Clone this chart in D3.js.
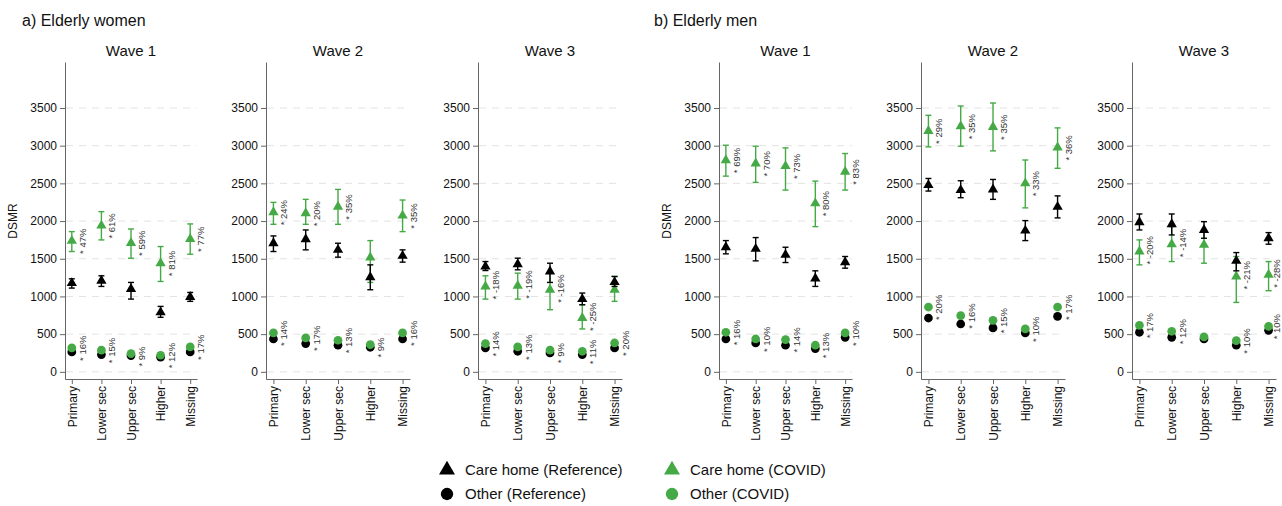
<!DOCTYPE html>
<html>
<head>
<meta charset="utf-8">
<script src="https://cdn.jsdelivr.net/npm/d3@7"></script>
<style>
  body { margin: 0; background: #fff; }
  svg { font-family: "Liberation Sans", Arial, sans-serif; }
</style>
</head>
<body>
<svg width="1282" height="506"></svg>
<script>
// categories and labels
const categories = ["Primary", "Lower sec", "Upper sec", "Higher", "Missing"];
const yTicks = [0, 500, 1000, 1500, 2000, 2500, 3000, 3500];
const groupTitles = ["a) Elderly women", "b) Elderly men"];
const waves = ["Wave 1", "Wave 2", "Wave 3"];

// one row per panel: women W1, W2, W3, men W1, W2, W3
const careCov = [
    [1737, 1940, 1710, 1441, 1763],
    [2116, 2103, 2191, 1516, 2072],
    [1133, 1142, 1089, 714, 1089],
    [2808, 2764, 2729, 2235, 2654],
    [3196, 3257, 3249, 2500, 2975],
    [1596, 1693, 1684, 1265, 1287]
];
const careCovLo = [
    [1596, 1750, 1507, 1199, 1560],
    [1957, 1957, 1957, 1186, 1860],
    [965, 965, 824, 569, 935],
    [2596, 2513, 2411, 1926, 2411],
    [2984, 2993, 2931, 2175, 2700],
    [1419, 1463, 1441, 921, 1076]
];
const careCovHi = [
    [1860, 2125, 1895, 1662, 1962],
    [2248, 2288, 2420, 1741, 2279],
    [1274, 1309, 1309, 890, 1265],
    [3006, 2993, 2971, 2530, 2896],
    [3403, 3526, 3566, 2810, 3236],
    [1750, 1926, 1882, 1530, 1463]
];
const careRef = [
    [1177, 1208, 1098, 789, 992],
    [1706, 1759, 1618, 1256, 1538],
    [1397, 1428, 1331, 965, 1190],
    [1653, 1631, 1552, 1239, 1455],
    [2477, 2411, 2420, 1873, 2188],
    [1984, 1957, 1882, 1472, 1772]
];
const careRefLo = [
    [1111, 1133, 965, 723, 935],
    [1596, 1618, 1521, 1089, 1455],
    [1344, 1353, 1186, 890, 1133],
    [1565, 1472, 1450, 1133, 1375],
    [2398, 2310, 2288, 1741, 2042],
    [1882, 1816, 1772, 1340, 1693]
];
const careRefHi = [
    [1234, 1274, 1186, 868, 1053],
    [1803, 1882, 1706, 1419, 1618],
    [1463, 1508, 1441, 1045, 1265],
    [1741, 1781, 1653, 1340, 1530],
    [2565, 2535, 2552, 2006, 2334],
    [2094, 2094, 1992, 1582, 1847]
];
const otherCov = [
    [317, 287, 242, 220, 330],
    [516, 450, 419, 361, 516],
    [375, 331, 287, 273, 383],
    [525, 436, 428, 353, 516],
    [860, 745, 683, 569, 860],
    [617, 538, 463, 414, 604]
];
const otherRef = [
    [264, 229, 216, 194, 264],
    [436, 375, 353, 326, 436],
    [317, 273, 251, 229, 317],
    [436, 383, 353, 309, 458],
    [714, 635, 582, 516, 736],
    [525, 458, 436, 353, 551]
];
const careLabel = [
    ["47%", "61%", "59%", "81%", "77%"],
    ["24%", "20%", "35%", null, "35%"],
    ["-18%", "-19%", "-16%", "-25%", null],
    ["69%", "70%", "73%", "80%", "83%"],
    ["29%", "35%", "35%", "33%", "36%"],
    ["-20%", "-14%", null, "-21%", "-28%"]
];
const otherLabel = [
    ["16%", "15%", "9%", "12%", "17%"],
    ["14%", "17%", "13%", "9%", "16%"],
    ["14%", "13%", "9%", "11%", "20%"],
    ["16%", "10%", "14%", "13%", "10%"],
    ["20%", "16%", "15%", "10%", "17%"],
    ["17%", "12%", null, "10%", "10%"]
];
const legendItems = ["Care home (Reference)", "Care home (COVID)", "Other (Reference)", "Other (COVID)"];

const green = "#45aa45";
const black = "#000";

const svg = d3.select("svg");
const W = 1282;

// panel layout
const panelX = [65, 266, 478, 719, 921, 1132];
const panelW = [132, 144, 144, 133, 144, 144];

const y = d3.scaleLinear().domain([-95, 4110]).range([379, 62]);

const tri = d3.symbol().type(d3.symbolTriangle).size(46);
const circ = d3.symbol().type(d3.symbolCircle).size(60);

// group titles
svg.selectAll(".gtitle")
    .data(groupTitles)
    .enter().append("text")
    .attr("x", (d, i) => i === 0 ? 22 : 654)
    .attr("y", 26)
    .attr("font-size", 16)
    .attr("fill", "#111")
    .text(d => d);

panelX.forEach((px, p) => {
    const w = panelW[p];
    const x = d3.scalePoint().domain(categories).range([0, w]).padding(0.23);
    const g = svg.append("g").attr("transform", `translate(${px},0)`);

    g.append("text")
        .attr("x", w / 2)
        .attr("y", 56)
        .attr("text-anchor", "middle")
        .attr("font-size", 15)
        .attr("fill", "#111")
        .text(waves[p % 3]);

    // gridlines
    g.selectAll(".grid")
        .data(yTicks)
        .enter().append("line")
        .attr("x1", 1).attr("x2", w)
        .attr("y1", d => y(d)).attr("y2", d => y(d))
        .attr("stroke", "#e3e3e3")
        .attr("stroke-dasharray", "7,6");

    // y axis
    const ya = g.append("g")
        .call(d3.axisLeft(y).tickValues(yTicks).tickFormat(d3.format("d"))
            .tickSize(5).tickPadding(3).tickSizeOuter(0));
    ya.select(".domain").attr("stroke", "#666");
    ya.selectAll(".tick line").attr("stroke", "#666");
    ya.selectAll("text").attr("font-size", 12).attr("fill", "#111")
        .attr("font-family", "Liberation Sans, Arial, sans-serif");

    // x axis
    const xa = g.append("g")
        .attr("transform", "translate(0,379)")
        .call(d3.axisBottom(x).tickSize(5).tickPadding(4).tickSizeOuter(0));
    xa.select(".domain").attr("stroke", "#666");
    xa.selectAll(".tick line").attr("stroke", "#666");
    xa.selectAll("text")
        .attr("font-size", 12).attr("fill", "#111")
        .attr("font-family", "Liberation Sans, Arial, sans-serif")
        .attr("transform", "rotate(-90)")
        .attr("text-anchor", "end")
        .attr("x", -7).attr("y", 0).attr("dy", "0.35em");

    if (p % 3 === 0) {
        g.append("text")
            .attr("transform", `translate(-48,221) rotate(-90)`)
            .attr("text-anchor", "middle")
            .attr("font-size", 12)
            .attr("fill", "#111")
            .text("DSMR");
    }

    const drawBars = (lo, hi, color) => {
        const bars = g.append("g").selectAll("g")
            .data(categories.map((c, i) => ({ c, lo: lo[i], hi: hi[i] })))
            .enter().append("g")
            .attr("stroke", color).attr("stroke-width", 1.4);
        bars.append("line")
            .attr("x1", d => x(d.c)).attr("x2", d => x(d.c))
            .attr("y1", d => y(d.lo)).attr("y2", d => y(d.hi));
        bars.append("line")
            .attr("x1", d => x(d.c) - 3).attr("x2", d => x(d.c) + 3)
            .attr("y1", d => y(d.lo)).attr("y2", d => y(d.lo));
        bars.append("line")
            .attr("x1", d => x(d.c) - 3).attr("x2", d => x(d.c) + 3)
            .attr("y1", d => y(d.hi)).attr("y2", d => y(d.hi));
    };

    const drawMarks = (vals, sym, color) => {
        g.append("g").selectAll("path")
            .data(categories.map((c, i) => ({ c, v: vals[i] })))
            .enter().append("path")
            .attr("d", sym)
            .attr("fill", color)
            .attr("transform", d => `translate(${x(d.c)},${y(d.v)})`);
    };

    drawBars(careCovLo[p], careCovHi[p], green);
    drawMarks(careCov[p], tri, green);
    drawBars(careRefLo[p], careRefHi[p], black);
    drawMarks(careRef[p], tri, black);
    drawMarks(otherRef[p], circ, black);
    drawMarks(otherCov[p], circ, green);

    // percentage change labels (kept inside the page at the right edge)
    const addLabels = (labels, vals) => {
        g.append("g").selectAll("text")
            .data(categories.map((c, i) => ({ c, v: vals[i], t: labels[i] })).filter(d => d.t))
            .enter().append("text")
            .attr("transform", d => `translate(${Math.min(x(d.c) + 14, W - 2 - px)},${y(d.v) + 13}) rotate(-90)`)
            .attr("font-size", 9.5)
            .attr("fill", "#333")
            .text(d => "* " + d.t);
    };
    addLabels(careLabel[p], careCov[p]);
    addLabels(otherLabel[p], otherCov[p]);
});

// legend
const legendPos = [[447, 470], [672, 470], [447, 494], [672, 494]];
const legendCol = [black, green, black, green];
const bigTri = d3.symbol().type(d3.symbolTriangle).size(110);
const bigCirc = d3.symbol().type(d3.symbolCircle).size(120);
const lg = svg.append("g").selectAll("g")
    .data(legendItems)
    .enter().append("g")
    .attr("transform", (d, i) => `translate(${legendPos[i][0]},${legendPos[i][1]})`);
lg.append("path")
    .attr("d", (d, i) => i < 2 ? bigTri() : bigCirc())
    .attr("fill", (d, i) => legendCol[i]);
lg.append("text")
    .attr("x", 18)
    .attr("dy", "0.35em")
    .attr("font-size", 15)
    .attr("fill", "#111")
    .text(d => d);
</script>
</body>
</html>
